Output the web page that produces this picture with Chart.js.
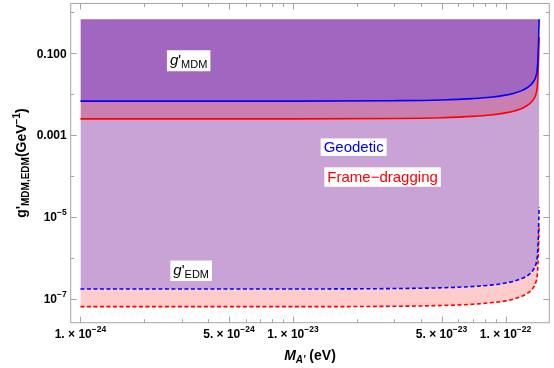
<!DOCTYPE html>
<html>
<head>
<meta charset="utf-8">
<script src="https://cdn.jsdelivr.net/npm/chart.js@4.4.1/dist/chart.umd.min.js"></script>
<style>
  html, body { margin: 0; padding: 0; background: #fff; }
  #wrap { width: 554px; height: 368px; position: relative; }
</style>
</head>
<body>
<div id="wrap"><canvas id="c"></canvas></div>
<script>
// Dark-photon coupling bounds vs mass (log-log).
// massEV: sample masses (eV); each series is g' in GeV^-1 at those masses.
const massEV = [1e-24, 1e-23, 3e-23, 5e-23, 7e-23, 8.5e-23, 1e-22, 1.1e-22, 1.2e-22,
  1.3e-22, 1.36e-22, 1.39e-22, 1.41e-22, 1.42e-22, 1.43e-22, 1.435e-22, 1.44e-22];
const geodeticMDM = [6.8e-3, 6.8e-3, 6.95e-3, 7.25e-3, 7.8e-3, 8.4e-3, 9.5e-3, 1.06e-2, 1.24e-2,
  1.6e-2, 2.1e-2, 2.7e-2, 4.0e-2, 6.8e-2, 0.18, 0.38, 0.68];
const frameMDM = [2.5e-3, 2.5e-3, 2.56e-3, 2.67e-3, 2.87e-3, 3.1e-3, 3.5e-3, 3.9e-3, 4.56e-3,
  5.9e-3, 7.7e-3, 9.9e-3, 1.47e-2, 2.5e-2, 6.6e-2, 0.14, 0.25];
const geodeticEDM = [1.76e-7, 1.76e-7, 1.8e-7, 1.88e-7, 2.02e-7, 2.18e-7, 2.45e-7, 2.74e-7, 3.2e-7,
  4.1e-7, 5.45e-7, 7.0e-7, 1.04e-6, 1.76e-6, 4.6e-6, 9.9e-6, 1.76e-5];
const frameEDM = [6.5e-8, 6.5e-8, 6.65e-8, 6.94e-8, 7.45e-8, 8.1e-8, 9.0e-8, 1.01e-7, 1.18e-7,
  1.52e-7, 2.0e-7, 2.6e-7, 3.8e-7, 6.5e-7, 1.7e-6, 3.65e-6, 6.5e-6];
// upper edge of the shaded region
const topEdgeX = [1e-24, 1.44e-22];
const topEdgeY = [0.68, 0.68];

// ticks
const xMajorTicks = [1e-24, 5e-24, 1e-23, 5e-23, 1e-22];
const xMajorLabels = [['1. \u00d7 10', '\u221224'], ['5. \u00d7 10', '\u221224'], ['1. \u00d7 10', '\u221223'],
  ['5. \u00d7 10', '\u221223'], ['1. \u00d7 10', '\u221222']];
const xMinorTicks = [2e-24, 3e-24, 4e-24, 6e-24, 7e-24, 8e-24, 9e-24, 2e-23, 3e-23, 4e-23,
  6e-23, 7e-23, 8e-23, 9e-23];
const yMajorTicks = [0.1, 1e-3, 1e-5, 1e-7];
const yMajorLabels = [['0.100', ''], ['0.001', ''], ['10', '\u22125'], ['10', '\u22127']];
const yMinorTicks = [1, 1e-2, 1e-4, 1e-6];

const COL = { dark: '#A066C0', mid: '#C980B0', light: '#C9A2D6', pink: '#FFCCCC', blue: '#0000FF', red: '#FF0000' };
const FONT = '"Liberation Sans", Arial, sans-serif';

const pts = (xs, ys) => xs.map((x, i) => ({ x, y: ys[i] }));

// draw a run of [text, font, dy] pieces; returns width
function rich(ctx, parts, x, y, align, color) {
  let w = 0;
  parts.forEach(([t, f]) => { ctx.font = f; w += ctx.measureText(t).width; });
  let cx = align === 'center' ? x - w / 2 : align === 'right' ? x - w : x;
  ctx.fillStyle = color || '#000';
  ctx.textAlign = 'left';
  ctx.textBaseline = 'alphabetic';
  parts.forEach(([t, f, dy]) => {
    ctx.font = f;
    ctx.fillText(t, cx, y + (dy || 0));
    cx += ctx.measureText(t).width;
  });
  return w;
}
function richWidth(ctx, parts) {
  let w = 0;
  parts.forEach(([t, f]) => { ctx.font = f; w += ctx.measureText(t).width; });
  return w;
}

// text boxes on the plot, placed in data coordinates
const notes = [
  { x: 3.23e-24, y: 0.0656, h: 21, color: '#000',
    parts: [['g', 'italic 15px ' + FONT, 4], ["'", '15px ' + FONT, 4], ['MDM', '11px ' + FONT, 7.5]] },
  { x: 1.93e-23, y: 5.09e-4, h: 17.5, color: COL.blue,
    parts: [['Geodetic', '15px ' + FONT, 5.3]] },
  { x: 2.64e-23, y: 9.5e-5, h: 19.5, color: COL.red,
    parts: [['Frame\u2212dragging', '15px ' + FONT, 5.3]] },
  { x: 3.32e-24, y: 4.89e-7, h: 20.5, color: '#000',
    parts: [['g', 'italic 15px ' + FONT, 4], ["'", '15px ' + FONT, 4], ['EDM', '11px ' + FONT, 7.5]] },
];

const framePlugin = {
  id: 'frame',
  afterDatasetsDraw(chart) {
    const { ctx, scales: { x, y } } = chart;
    ctx.save();
    notes.forEach((n) => {
      const cx = x.getPixelForValue(n.x), cy = y.getPixelForValue(n.y);
      const w = richWidth(ctx, n.parts) + 6;
      ctx.fillStyle = '#fff';
      ctx.fillRect(cx - w / 2, cy - n.h / 2, w, n.h);
      rich(ctx, n.parts, cx, cy, 'center', n.color);
    });
    ctx.restore();
  },
  afterDraw(chart) {
    const { ctx, chartArea: a, scales: { x, y } } = chart;
    ctx.save();
    ctx.strokeStyle = '#a6a6a6';
    ctx.lineWidth = 1;
    ctx.strokeRect(a.left, a.top, a.right - a.left, a.bottom - a.top);
    const tick = (x1, y1, x2, y2) => { ctx.beginPath(); ctx.moveTo(x1, y1); ctx.lineTo(x2, y2); ctx.stroke(); };
    xMajorTicks.concat(xMinorTicks).forEach((v, i) => {
      const px = Math.round(x.getPixelForValue(v)) + 0.5;
      const len = i < xMajorTicks.length ? 6 : 3.5;
      tick(px, a.bottom, px, a.bottom - len);
      tick(px, a.top, px, a.top + len);
    });
    yMajorTicks.concat(yMinorTicks).forEach((v, i) => {
      const py = Math.round(y.getPixelForValue(v)) + 0.5;
      const len = i < yMajorTicks.length ? 6 : 3.5;
      tick(a.left, py, a.left + len, py);
      tick(a.right, py, a.right - len, py);
    });
    // tick labels
    const base = 'bold 12px ' + FONT, sup = 'bold 8.5px ' + FONT;
    xMajorTicks.forEach((v, i) => {
      const [m, e] = xMajorLabels[i];
      rich(ctx, [[m, base, 0], [e, sup, -6]], x.getPixelForValue(v), a.bottom + 15.5, 'center');
    });
    yMajorTicks.forEach((v, i) => {
      const [m, e] = yMajorLabels[i];
      rich(ctx, [[m, base, 0], [e, sup, -6]], a.left - 4, y.getPixelForValue(v) + 4.3, 'right');
    });
    // axis titles
    const tf = 'bold 14px ' + FONT, sf = 'bold 10px ' + FONT;
    rich(ctx, [['M', 'italic ' + tf, 0], ["A'", 'italic ' + sf, 3], [' (eV)', tf, 0]],
      (a.left + a.right) / 2, 360, 'center');
    ctx.translate(26, (a.top + a.bottom) / 2);
    ctx.rotate(-Math.PI / 2);
    rich(ctx, [['g', tf, 0], ["'", tf, 0], ['MDM,EDM', sf, 3], ['(GeV', tf, 0], ['\u22121', sf, -6], [')', tf, 0]],
      0, 0, 'center');
    ctx.restore();
  },
};

const line = (ys, color, dash, fillTo, fillColor) => ({
  data: pts(massEV, ys),
  borderColor: color,
  borderWidth: 1.6,
  borderDash: dash,
  backgroundColor: fillColor,
  fill: fillTo,
  pointRadius: 0,
  cubicInterpolationMode: 'monotone',
});

new Chart(document.getElementById('c'), {
  type: 'line',
  data: {
    datasets: [
      { data: pts(topEdgeX, topEdgeY), borderWidth: 0, pointRadius: 0, fill: false },
      line(geodeticMDM, COL.blue, [], 0, COL.dark),
      line(frameMDM, COL.red, [], 1, COL.mid),
      line(geodeticEDM, COL.blue, [4, 2.5], 2, COL.light),
      line(frameEDM, COL.red, [4, 2.5], 3, COL.pink),
    ],
  },
  options: {
    responsive: true, maintainAspectRatio: false, animation: false,
    layout: { padding: { left: 70.7, right: 4.7, top: 3.5, bottom: 45.3 } },
    plugins: {
      legend: { display: false }, tooltip: { enabled: false },
      filler: { drawTime: 'beforeDatasetsDraw' },
    },
    scales: {
      x: { type: 'logarithmic', min: 9.07e-25, max: 1.607e-22, display: false },
      y: { type: 'logarithmic', min: 2.64e-8, max: 1.64, display: false },
    },
  },
  plugins: [framePlugin],
});
</script>
</body>
</html>
